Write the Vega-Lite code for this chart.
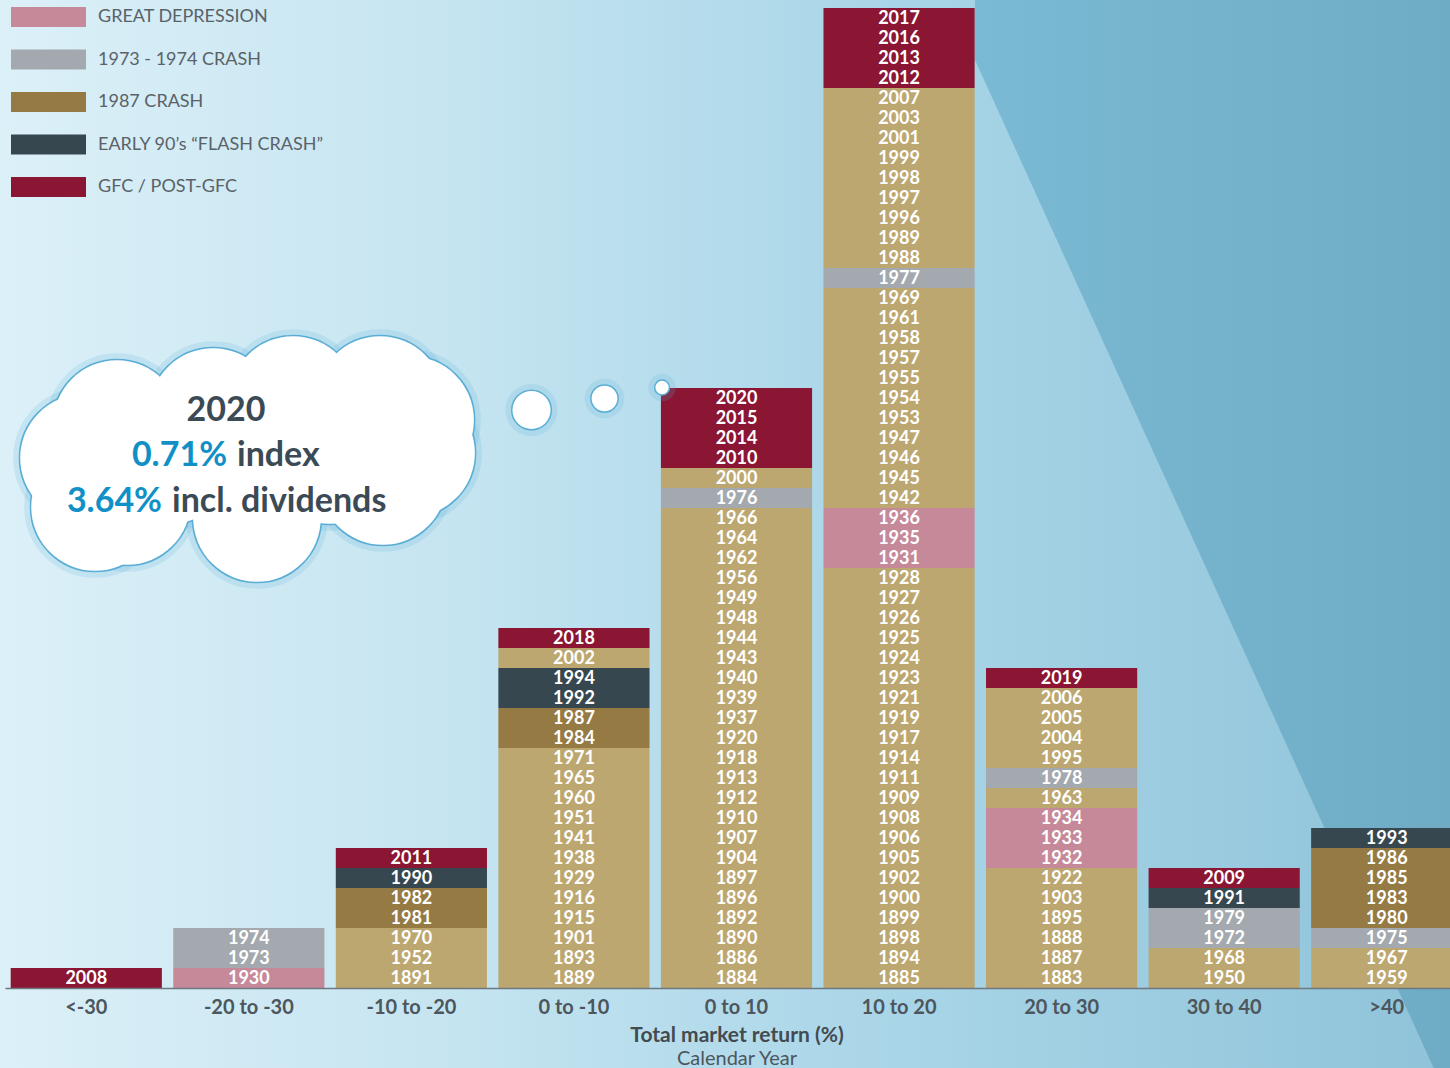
{
  "$schema": "https://vega.github.io/schema/vega-lite/v6.json",
  "width": 1445,
  "height": 980,
  "autosize": {"type": "none"},
  "padding": {"left": 5, "top": 8, "right": 0, "bottom": 80},
  "background": "#cfe8f3",
  "config": {
    "view": {"stroke": null},
    "font": "Lato",
    "axis": {
      "grid": false,
      "ticks": false,
      "domainColor": "#6d7880",
      "domainWidth": 1.5,
      "labelFont": "Lato",
      "labelFontSize": 20,
      "labelFontWeight": "bold",
      "labelColor": "#4d565d",
      "labelPadding": 9,
      "labelAngle": 0,
      "titleFont": "Lato",
      "titleFontSize": 21,
      "titleFontWeight": "bold",
      "titleColor": "#434a50",
      "titlePadding": 7
    }
  },
  "datasets": {
    "sky": [{"u0": -0.04, "u1": 8.92, "v0": -4.2, "v1": 49.6}],
    "shade": [
      {"u": 5.967, "lo": 46.4, "hi": 53},
      {"u": 8.8, "lo": -4.2, "hi": 53},
      {"u": 9.1, "lo": -4.2, "hi": 53}
    ],
    "years": [
      {"c": "<-30", "yr": 2008, "e": "gfc"},
      {"c": "-20 to -30", "yr": 1930, "e": "gd"},
      {"c": "-20 to -30", "yr": 1973, "e": "c74"},
      {"c": "-20 to -30", "yr": 1974, "e": "c74"},
      {"c": "-10 to -20", "yr": 1891, "e": "n"},
      {"c": "-10 to -20", "yr": 1952, "e": "n"},
      {"c": "-10 to -20", "yr": 1970, "e": "n"},
      {"c": "-10 to -20", "yr": 1981, "e": "c87"},
      {"c": "-10 to -20", "yr": 1982, "e": "c87"},
      {"c": "-10 to -20", "yr": 1990, "e": "e90"},
      {"c": "-10 to -20", "yr": 2011, "e": "gfc"},
      {"c": "0 to -10", "yr": 1889, "e": "n"},
      {"c": "0 to -10", "yr": 1893, "e": "n"},
      {"c": "0 to -10", "yr": 1901, "e": "n"},
      {"c": "0 to -10", "yr": 1915, "e": "n"},
      {"c": "0 to -10", "yr": 1916, "e": "n"},
      {"c": "0 to -10", "yr": 1929, "e": "n"},
      {"c": "0 to -10", "yr": 1938, "e": "n"},
      {"c": "0 to -10", "yr": 1941, "e": "n"},
      {"c": "0 to -10", "yr": 1951, "e": "n"},
      {"c": "0 to -10", "yr": 1960, "e": "n"},
      {"c": "0 to -10", "yr": 1965, "e": "n"},
      {"c": "0 to -10", "yr": 1971, "e": "n"},
      {"c": "0 to -10", "yr": 1984, "e": "c87"},
      {"c": "0 to -10", "yr": 1987, "e": "c87"},
      {"c": "0 to -10", "yr": 1992, "e": "e90"},
      {"c": "0 to -10", "yr": 1994, "e": "e90"},
      {"c": "0 to -10", "yr": 2002, "e": "n"},
      {"c": "0 to -10", "yr": 2018, "e": "gfc"},
      {"c": "0 to 10", "yr": 1884, "e": "n"},
      {"c": "0 to 10", "yr": 1886, "e": "n"},
      {"c": "0 to 10", "yr": 1890, "e": "n"},
      {"c": "0 to 10", "yr": 1892, "e": "n"},
      {"c": "0 to 10", "yr": 1896, "e": "n"},
      {"c": "0 to 10", "yr": 1897, "e": "n"},
      {"c": "0 to 10", "yr": 1904, "e": "n"},
      {"c": "0 to 10", "yr": 1907, "e": "n"},
      {"c": "0 to 10", "yr": 1910, "e": "n"},
      {"c": "0 to 10", "yr": 1912, "e": "n"},
      {"c": "0 to 10", "yr": 1913, "e": "n"},
      {"c": "0 to 10", "yr": 1918, "e": "n"},
      {"c": "0 to 10", "yr": 1920, "e": "n"},
      {"c": "0 to 10", "yr": 1937, "e": "n"},
      {"c": "0 to 10", "yr": 1939, "e": "n"},
      {"c": "0 to 10", "yr": 1940, "e": "n"},
      {"c": "0 to 10", "yr": 1943, "e": "n"},
      {"c": "0 to 10", "yr": 1944, "e": "n"},
      {"c": "0 to 10", "yr": 1948, "e": "n"},
      {"c": "0 to 10", "yr": 1949, "e": "n"},
      {"c": "0 to 10", "yr": 1956, "e": "n"},
      {"c": "0 to 10", "yr": 1962, "e": "n"},
      {"c": "0 to 10", "yr": 1964, "e": "n"},
      {"c": "0 to 10", "yr": 1966, "e": "n"},
      {"c": "0 to 10", "yr": 1976, "e": "c74"},
      {"c": "0 to 10", "yr": 2000, "e": "n"},
      {"c": "0 to 10", "yr": 2010, "e": "gfc"},
      {"c": "0 to 10", "yr": 2014, "e": "gfc"},
      {"c": "0 to 10", "yr": 2015, "e": "gfc"},
      {"c": "0 to 10", "yr": 2020, "e": "gfc"},
      {"c": "10 to 20", "yr": 1885, "e": "n"},
      {"c": "10 to 20", "yr": 1894, "e": "n"},
      {"c": "10 to 20", "yr": 1898, "e": "n"},
      {"c": "10 to 20", "yr": 1899, "e": "n"},
      {"c": "10 to 20", "yr": 1900, "e": "n"},
      {"c": "10 to 20", "yr": 1902, "e": "n"},
      {"c": "10 to 20", "yr": 1905, "e": "n"},
      {"c": "10 to 20", "yr": 1906, "e": "n"},
      {"c": "10 to 20", "yr": 1908, "e": "n"},
      {"c": "10 to 20", "yr": 1909, "e": "n"},
      {"c": "10 to 20", "yr": 1911, "e": "n"},
      {"c": "10 to 20", "yr": 1914, "e": "n"},
      {"c": "10 to 20", "yr": 1917, "e": "n"},
      {"c": "10 to 20", "yr": 1919, "e": "n"},
      {"c": "10 to 20", "yr": 1921, "e": "n"},
      {"c": "10 to 20", "yr": 1923, "e": "n"},
      {"c": "10 to 20", "yr": 1924, "e": "n"},
      {"c": "10 to 20", "yr": 1925, "e": "n"},
      {"c": "10 to 20", "yr": 1926, "e": "n"},
      {"c": "10 to 20", "yr": 1927, "e": "n"},
      {"c": "10 to 20", "yr": 1928, "e": "n"},
      {"c": "10 to 20", "yr": 1931, "e": "gd"},
      {"c": "10 to 20", "yr": 1935, "e": "gd"},
      {"c": "10 to 20", "yr": 1936, "e": "gd"},
      {"c": "10 to 20", "yr": 1942, "e": "n"},
      {"c": "10 to 20", "yr": 1945, "e": "n"},
      {"c": "10 to 20", "yr": 1946, "e": "n"},
      {"c": "10 to 20", "yr": 1947, "e": "n"},
      {"c": "10 to 20", "yr": 1953, "e": "n"},
      {"c": "10 to 20", "yr": 1954, "e": "n"},
      {"c": "10 to 20", "yr": 1955, "e": "n"},
      {"c": "10 to 20", "yr": 1957, "e": "n"},
      {"c": "10 to 20", "yr": 1958, "e": "n"},
      {"c": "10 to 20", "yr": 1961, "e": "n"},
      {"c": "10 to 20", "yr": 1969, "e": "n"},
      {"c": "10 to 20", "yr": 1977, "e": "c74"},
      {"c": "10 to 20", "yr": 1988, "e": "n"},
      {"c": "10 to 20", "yr": 1989, "e": "n"},
      {"c": "10 to 20", "yr": 1996, "e": "n"},
      {"c": "10 to 20", "yr": 1997, "e": "n"},
      {"c": "10 to 20", "yr": 1998, "e": "n"},
      {"c": "10 to 20", "yr": 1999, "e": "n"},
      {"c": "10 to 20", "yr": 2001, "e": "n"},
      {"c": "10 to 20", "yr": 2003, "e": "n"},
      {"c": "10 to 20", "yr": 2007, "e": "n"},
      {"c": "10 to 20", "yr": 2012, "e": "gfc"},
      {"c": "10 to 20", "yr": 2013, "e": "gfc"},
      {"c": "10 to 20", "yr": 2016, "e": "gfc"},
      {"c": "10 to 20", "yr": 2017, "e": "gfc"},
      {"c": "20 to 30", "yr": 1883, "e": "n"},
      {"c": "20 to 30", "yr": 1887, "e": "n"},
      {"c": "20 to 30", "yr": 1888, "e": "n"},
      {"c": "20 to 30", "yr": 1895, "e": "n"},
      {"c": "20 to 30", "yr": 1903, "e": "n"},
      {"c": "20 to 30", "yr": 1922, "e": "n"},
      {"c": "20 to 30", "yr": 1932, "e": "gd"},
      {"c": "20 to 30", "yr": 1933, "e": "gd"},
      {"c": "20 to 30", "yr": 1934, "e": "gd"},
      {"c": "20 to 30", "yr": 1963, "e": "n"},
      {"c": "20 to 30", "yr": 1978, "e": "c74"},
      {"c": "20 to 30", "yr": 1995, "e": "n"},
      {"c": "20 to 30", "yr": 2004, "e": "n"},
      {"c": "20 to 30", "yr": 2005, "e": "n"},
      {"c": "20 to 30", "yr": 2006, "e": "n"},
      {"c": "20 to 30", "yr": 2019, "e": "gfc"},
      {"c": "30 to 40", "yr": 1950, "e": "n"},
      {"c": "30 to 40", "yr": 1968, "e": "n"},
      {"c": "30 to 40", "yr": 1972, "e": "c74"},
      {"c": "30 to 40", "yr": 1979, "e": "c74"},
      {"c": "30 to 40", "yr": 1991, "e": "e90"},
      {"c": "30 to 40", "yr": 2009, "e": "gfc"},
      {"c": ">40", "yr": 1959, "e": "n"},
      {"c": ">40", "yr": 1967, "e": "n"},
      {"c": ">40", "yr": 1975, "e": "c74"},
      {"c": ">40", "yr": 1980, "e": "c87"},
      {"c": ">40", "yr": 1983, "e": "c87"},
      {"c": ">40", "yr": 1985, "e": "c87"},
      {"c": ">40", "yr": 1986, "e": "c87"},
      {"c": ">40", "yr": 1993, "e": "e90"}
    ],
    "cloud": [
      {"u": 0.486, "v": 26.5, "k": "lobe"},
      {"u": 0.689, "v": 28.2, "k": "lobe"},
      {"u": 1.28, "v": 28.8, "k": "lobe"},
      {"u": 1.772, "v": 29.4, "k": "lobe"},
      {"u": 2.307, "v": 29.4, "k": "lobe"},
      {"u": 2.492, "v": 28.4, "k": "lobe"},
      {"u": 2.498, "v": 26.75, "k": "lobe"},
      {"u": 2.325, "v": 25.35, "k": "lobe"},
      {"u": 1.55, "v": 23.5, "k": "lobe"},
      {"u": 0.75, "v": 24.35, "k": "lobe"},
      {"u": 0.554, "v": 24.05, "k": "lobe"},
      {"u": 1.507, "v": 26.4, "k": "lobe"},
      {"u": 1.015, "v": 26.4, "k": "lobe"},
      {"u": 1.999, "v": 26.4, "k": "lobe"},
      {"u": 3.239, "v": 28.9, "k": "b1"},
      {"u": 3.688, "v": 29.475, "k": "b2"},
      {"u": 4.042, "v": 30.025, "k": "b3"}
    ],
    "notes": [
      {"u": 1.3595, "v": 28.87, "t": "2020", "g": "head"},
      {"u": 1.3657, "v": 26.62, "t": "0.71%", "g": "blue"},
      {"u": 1.4272, "v": 26.62, "t": "index", "g": "dark"},
      {"u": 0.9658, "v": 24.32, "t": "3.64%", "g": "blue"},
      {"u": 1.0273, "v": 24.32, "t": "incl. dividends", "g": "dark"},
      {"u": 4.503, "v": -3.55, "t": "Calendar Year", "g": "cap"}
    ]
  },
  "layer": [
    {
      "layer": [
        {
          "data": {"name": "sky"},
          "mark": {
            "type": "rect",
            "fill": {
              "gradient": "linear", "x1": 0, "y1": 0, "x2": 1, "y2": 0,
              "stops": [
                {"offset": 0, "color": "#dcf0f8"},
                {"offset": 0.3, "color": "#c6e5f1"},
                {"offset": 0.6, "color": "#aad6e8"},
                {"offset": 1, "color": "#8fc3d9"}
              ]
            }
          },
          "encoding": {
            "x": {"field": "u0", "type": "quantitative", "scale": {"domain": [0, 9], "range": [0, 1463], "nice": false, "zero": false}, "axis": null},
            "x2": {"field": "u1"},
            "y": {"field": "v0", "type": "quantitative", "scale": {"domain": [0, 49], "nice": false, "zero": false}, "axis": null},
            "y2": {"field": "v1"}
          }
        },
        {
          "data": {"name": "shade"},
          "mark": {
            "type": "area",
            "fill": {
              "gradient": "linear", "x1": 0, "y1": 0, "x2": 1, "y2": 0,
              "stops": [
                {"offset": 0, "color": "#7bbad4"},
                {"offset": 1, "color": "#6eaac3"}
              ]
            }
          },
          "encoding": {
            "x": {"field": "u", "type": "quantitative", "scale": {"domain": [0, 9], "range": [0, 1463], "nice": false, "zero": false}, "axis": null},
            "y": {"field": "lo", "type": "quantitative", "scale": {"domain": [0, 49], "nice": false, "zero": false}, "axis": null},
            "y2": {"field": "hi"}
          }
        }
      ]
    },
    {
      "data": {"name": "years"},
      "encoding": {
        "x": {
          "field": "c", "type": "nominal",
          "sort": ["<-30", "-20 to -30", "-10 to -20", "0 to -10", "0 to 10", "10 to 20", "20 to 30", "30 to 40", ">40"],
          "scale": {"range": [0, 1463], "paddingInner": 0.07, "paddingOuter": 0.035},
          "axis": {"title": "Total market return (%)", "zindex": 1}
        },
        "y": {"aggregate": "count", "type": "quantitative", "stack": "zero", "scale": {"domain": [0, 49], "nice": false, "zero": false}, "axis": null},
        "detail": {"field": "yr", "type": "nominal"},
        "order": {"field": "yr", "type": "quantitative", "sort": "ascending"}
      },
      "layer": [
        {
          "mark": {"type": "bar", "opacity": 1},
          "encoding": {
            "color": {
              "field": "e", "type": "nominal",
              "scale": {
                "domain": ["gd", "c74", "c87", "e90", "gfc", "n"],
                "range": ["#c6899a", "#a3a9ae", "#957a44", "#37474f", "#8a1634", "#bda770"]
              },
              "legend": {
                "values": ["gd", "c74", "c87", "e90", "gfc"],
                "labelExpr": "{'gd': 'GREAT DEPRESSION', 'c74': '1973 - 1974 CRASH', 'c87': '1987 CRASH', 'e90': 'EARLY 90’s “FLASH CRASH”', 'gfc': 'GFC / POST-GFC'}[datum.label]",
                "title": null,
                "orient": "none",
                "legendX": 6,
                "legendY": -11,
                "padding": 0,
                "zindex": 1,
                "symbolType": "M-1,-0.5H2.75V0.5H-1Z",
                "symbolSize": 1600,
                "symbolStrokeWidth": 0,
                "symbolOpacity": 1,
                "labelFont": "Lato",
                "labelFontSize": 18,
                "labelLimit": 500,
                "labelColor": "#5a6268",
                "labelOffset": 47,
                "rowPadding": 12.5
              }
            }
          }
        },
        {
          "mark": {"type": "text", "color": "white", "font": "Lato", "fontWeight": "bold", "fontSize": 18, "baseline": "middle", "dy": 11},
          "encoding": {
            "text": {"field": "yr", "type": "nominal"}
          }
        }
      ]
    },
    {
      "layer": [
        {
          "data": {"name": "cloud"},
          "mark": {"type": "point", "shape": "circle", "filled": false, "stroke": "#5fb3da", "strokeWidth": 14, "strokeOpacity": 0.18, "opacity": 1},
          "encoding": {
            "x": {"field": "u", "type": "quantitative", "scale": {"domain": [0, 9], "range": [0, 1463], "nice": false, "zero": false}, "axis": null},
            "y": {"field": "v", "type": "quantitative", "scale": {"domain": [0, 49], "nice": false, "zero": false}, "axis": null},
            "size": {"field": "k", "type": "nominal", "scale": {"type": "ordinal", "domain": ["lobe", "b1", "b2", "b3"], "range": [16286, 1452, 660, 177]}, "legend": null}
          }
        },
        {
          "data": {"name": "cloud"},
          "mark": {"type": "circle", "fill": "white", "stroke": "#5aaed6", "strokeWidth": 3, "opacity": 1},
          "encoding": {
            "x": {"field": "u", "type": "quantitative", "axis": null},
            "y": {"field": "v", "type": "quantitative", "axis": null},
            "size": {"field": "k", "type": "nominal", "scale": {"type": "ordinal", "domain": ["lobe", "b1", "b2", "b3"], "range": [16286, 1452, 660, 177]}, "legend": null}
          }
        },
        {
          "data": {"name": "cloud"},
          "mark": {"type": "circle", "fill": "white", "strokeWidth": 0, "opacity": 1},
          "encoding": {
            "x": {"field": "u", "type": "quantitative", "axis": null},
            "y": {"field": "v", "type": "quantitative", "axis": null},
            "size": {"field": "k", "type": "nominal", "scale": {"type": "ordinal", "domain": ["lobe", "b1", "b2", "b3"], "range": [16286, 1452, 660, 177]}, "legend": null}
          }
        },
        {
          "data": {"name": "notes"},
          "transform": [{"filter": "datum.g == 'head'"}],
          "mark": {"type": "text", "align": "center", "baseline": "middle", "font": "Lato", "fontWeight": "bold", "fontSize": 34, "color": "#3b4a55"},
          "encoding": {
            "x": {"field": "u", "type": "quantitative", "axis": null},
            "y": {"field": "v", "type": "quantitative", "axis": null},
            "text": {"field": "t", "type": "nominal"}
          }
        },
        {
          "data": {"name": "notes"},
          "transform": [{"filter": "datum.g == 'blue'"}],
          "mark": {"type": "text", "align": "right", "baseline": "middle", "font": "Lato", "fontWeight": "bold", "fontSize": 34, "color": "#1190c6"},
          "encoding": {
            "x": {"field": "u", "type": "quantitative", "axis": null},
            "y": {"field": "v", "type": "quantitative", "axis": null},
            "text": {"field": "t", "type": "nominal"}
          }
        },
        {
          "data": {"name": "notes"},
          "transform": [{"filter": "datum.g == 'dark'"}],
          "mark": {"type": "text", "align": "left", "baseline": "middle", "font": "Lato", "fontWeight": "bold", "fontSize": 34, "color": "#3b4a55"},
          "encoding": {
            "x": {"field": "u", "type": "quantitative", "axis": null},
            "y": {"field": "v", "type": "quantitative", "axis": null},
            "text": {"field": "t", "type": "nominal"}
          }
        },
        {
          "data": {"name": "notes"},
          "transform": [{"filter": "datum.g == 'cap'"}],
          "mark": {"type": "text", "align": "center", "baseline": "middle", "font": "Lato", "fontWeight": "normal", "fontSize": 20, "color": "#4d565d"},
          "encoding": {
            "x": {"field": "u", "type": "quantitative", "axis": null},
            "y": {"field": "v", "type": "quantitative", "axis": null},
            "text": {"field": "t", "type": "nominal"}
          }
        }
      ]
    }
  ],
  "resolve": {"scale": {"x": "independent"}}
}
